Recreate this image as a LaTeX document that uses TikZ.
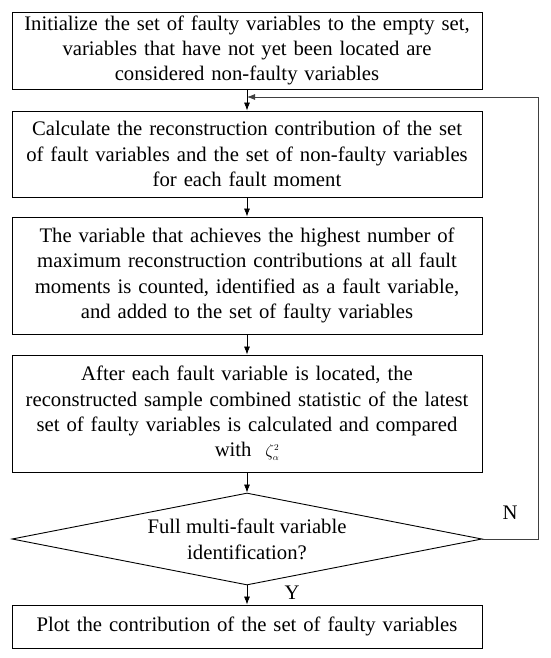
\documentclass[tikz,border=0pt]{standalone}
\usepackage{fontspec}
\setmainfont{Liberation Serif}
\usetikzlibrary{shapes.geometric,arrows.meta}
\begin{document}
\begin{tikzpicture}[x=1pt,y=-1pt,
  box/.style={draw, line width=0.9pt, minimum width=470pt, align=center, inner sep=0pt,
    text width=468pt, font=\fontsize{20.7}{25.3}\selectfont},
  dia/.style={draw, line width=0.9pt, diamond, aspect=5.1, minimum width=470pt, minimum height=92pt,
    inner sep=0pt, align=center, font=\fontsize{20.7}{26}\selectfont},
  arr/.style={-{Latex[length=8pt,width=6pt]}, line width=0.7pt},
  fbline/.style={-{Latex[length=8pt,width=6pt]}, line width=0.8pt, draw=black!75},
  lab/.style={font=\fontsize{20.7}{24}\selectfont, inner sep=0pt},
]
\useasboundingbox (0,0) rectangle (550,658);
\node[box, minimum height=77pt] (b1) at (247,50.5) {Initialize the set of faulty variables to the empty set,\\variables that have not yet been located are\\considered non-faulty variables};
\node[box, minimum height=86pt] (b2) at (247,154) {Calculate the reconstruction contribution of the set\\of fault variables and the set of non-faulty variables\\for each fault moment};
\node[box, minimum height=117pt] (b3) at (247,275.5) {The variable that achieves the highest number of\\maximum reconstruction contributions at all fault\\moments is counted, identified as a fault variable,\\and added to the set of faulty variables};
\node[box, minimum height=117pt] (b4) at (247,413.5) {After each fault variable is located, the\\reconstructed sample combined statistic of the latest\\set of faulty variables is calculated and compared\\with \ {\fontsize{18}{18}\selectfont$\zeta_{\scriptscriptstyle\alpha}^{\scriptscriptstyle 2}$}};
\node[dia] (d) at (247,539) {Full multi-fault variable\\identification?};
\node[box, minimum height=43pt] (b5) at (247,626.5) {Plot the contribution of the set of faulty variables};
\coordinate (join) at (247,97);
\coordinate (rt) at (538,97);
\draw[arr] (b1) -- (b2);
\draw[arr] (b2) -- (b3);
\draw[arr] (b3) -- (b4);
\draw[arr] (b4) -- (d);
\draw[arr] (d) -- (b5);
\draw[fbline] (d.east) -| (rt) -- (join);
\node[lab] (n) at (510,513) {N};
\node[lab] (y) at (292,593) {Y};
\end{tikzpicture}
\end{document}
